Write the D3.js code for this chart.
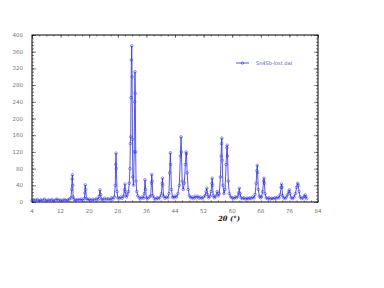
<!DOCTYPE html>
<html>
<head>
<meta charset="utf-8">
<script src="https://cdn.jsdelivr.net/npm/d3@7"></script>
<style>
  body { margin: 0; background: #fff; }
  svg { display: block; }
  .tick-label { font-family: "DejaVu Sans", sans-serif; font-size: 5.5px; fill: #777; }
</style>
</head>
<body>
<div id="main"></div>
<script>
// diffraction scan: [2theta, counts]
var pattern = [
  [4.0,3],[4.5,5],[5.0,4],[5.5,6],[6.0,3],[6.5,5],[7.0,4],[7.5,7],[8.0,3],[8.5,5],
  [9.0,4],[9.5,6],[10.0,3],[10.5,5],[11.0,7],[11.5,4],[12.0,5],[12.5,3],[13.0,6],[13.5,4],
  [14.0,5],[14.5,7],[14.9,10],[15.1,30],[15.2,55],[15.3,65],[15.4,40],[15.5,12],[15.8,6],[16.2,4],
  [16.7,6],[17.2,5],[17.7,7],[18.2,4],[18.6,8],[18.8,22],[18.9,41],[19.0,30],[19.2,9],[19.6,5],
  [20.0,7],[20.5,4],[21.0,6],[21.5,5],[22.0,8],[22.5,6],[22.8,14],[23.0,29],[23.2,18],[23.4,7],
  [23.8,5],[24.3,9],[24.8,6],[25.3,8],[25.8,5],[26.2,10],[26.6,7],[27.0,12],[27.3,40],[27.4,90],
  [27.5,117],[27.6,80],[27.8,25],[28.0,10],[28.4,8],[28.8,12],[29.2,9],[29.6,14],[29.9,30],[30.0,43],
  [30.1,25],[30.4,12],[30.7,18],[31.0,25],[31.2,45],[31.4,80],[31.5,140],[31.6,156],[31.7,250],[31.8,340],
  [31.9,374],[32.0,300],[32.1,150],[32.2,60],[32.4,40],[32.6,120],[32.7,240],[32.8,312],[32.9,260],[33.0,120],
  [33.1,50],[33.3,25],[33.6,15],[34.0,10],[34.4,8],[34.8,12],[35.2,9],[35.4,20],[35.6,53],[35.8,30],
  [36.0,10],[36.4,8],[36.8,12],[37.2,15],[37.4,45],[37.5,66],[37.6,50],[37.8,15],[38.2,9],[38.6,7],
  [39.0,10],[39.4,8],[39.8,12],[40.2,20],[40.4,45],[40.5,57],[40.6,40],[40.8,14],[41.2,9],[41.6,12],
  [42.0,10],[42.3,20],[42.5,70],[42.7,118],[42.8,90],[43.0,30],[43.3,12],[43.7,10],[44.0,14],[44.4,12],
  [44.8,20],[45.2,40],[45.5,110],[45.7,156],[45.8,120],[46.0,50],[46.3,30],[46.6,45],[46.9,90],[47.1,120],
  [47.2,115],[47.4,70],[47.7,30],[48.0,15],[48.4,10],[48.8,12],[49.2,8],[49.6,14],[50.0,10],[50.4,14],
  [50.8,9],[51.2,12],[51.6,8],[52.0,12],[52.4,15],[52.7,25],[52.9,33],[53.1,18],[53.4,10],[53.8,14],
  [54.1,25],[54.3,45],[54.4,57],[54.5,40],[54.7,15],[55.0,10],[55.4,14],[55.8,25],[56.1,15],[56.4,20],
  [56.7,60],[56.9,110],[57.0,140],[57.1,153],[57.2,100],[57.4,40],[57.7,20],[58.0,30],[58.3,90],[58.5,130],
  [58.6,136],[58.7,110],[58.9,50],[59.2,20],[59.6,12],[60.0,10],[60.4,8],[60.8,12],[61.2,10],[61.6,14],
  [61.8,22],[62.0,33],[62.2,20],[62.5,10],[62.9,8],[63.3,10],[63.7,7],[64.1,9],[64.5,8],[64.9,10],
  [65.3,8],[65.7,12],[66.1,10],[66.4,18],[66.7,45],[66.9,75],[67.0,88],[67.1,70],[67.3,30],[67.6,14],
  [67.9,10],[68.2,12],[68.5,25],[68.8,50],[68.9,57],[69.0,45],[69.2,20],[69.5,10],[69.9,8],[70.3,10],
  [70.7,7],[71.1,9],[71.5,8],[71.9,10],[72.3,8],[72.7,12],[73.1,10],[73.4,18],[73.7,35],[73.8,43],
  [73.9,35],[74.1,15],[74.4,10],[74.8,8],[75.2,12],[75.5,18],[75.8,25],[76.0,29],[76.2,20],[76.5,10],
  [76.9,8],[77.3,12],[77.7,20],[78.0,35],[78.3,45],[78.5,40],[78.7,25],[79.0,12],[79.4,8],[79.8,10],
  [80.2,14],[80.4,17],[80.6,12],[80.8,8]
];
var xTicks = [4, 12, 20, 28, 36, 44, 52, 60, 68, 76, 84];
var yTicks = [0, 40, 80, 120, 160, 200, 240, 280, 320, 360, 400];
var legendLabel = "Sn4Sb-lost.dat";
var xTitle = "2\u03b8 (\u00b0)";

var width = 384, height = 288;
var plotLeft = 32, plotRight = 318, plotTop = 35, plotBottom = 202;
var blue = "#2a2aff";

var svg = d3.select("#main").append("svg")
  .attr("width", width)
  .attr("height", height);

var x = d3.scaleLinear().domain([4, 84]).range([plotLeft, plotRight]);
var y = d3.scaleLinear().domain([0, 400]).range([plotBottom, plotTop]);

// minor ticks
var xMinor = d3.range(4, 84.01, 2);
var yMinor = d3.range(0, 400.01, 8);

var axes = svg.append("g");
// ticks point inward on all four sides
axes.append("g")
  .attr("transform", "translate(0," + plotBottom + ")")
  .call(d3.axisTop(x).tickValues(xMinor).tickSize(1.5).tickFormat(""));
axes.append("g")
  .attr("transform", "translate(0," + plotTop + ")")
  .call(d3.axisBottom(x).tickValues(xMinor).tickSize(1.5).tickFormat(""));
axes.append("g")
  .attr("transform", "translate(0," + plotTop + ")")
  .call(d3.axisBottom(x).tickValues(xTicks).tickSize(3).tickFormat(""));
axes.append("g")
  .attr("transform", "translate(" + plotLeft + ",0)")
  .call(d3.axisRight(y).tickValues(yMinor).tickSize(2).tickFormat(""));
axes.append("g")
  .attr("transform", "translate(" + plotLeft + ",0)")
  .call(d3.axisRight(y).tickValues(yTicks).tickSize(4).tickFormat(""));
axes.append("g")
  .attr("transform", "translate(" + plotRight + ",0)")
  .call(d3.axisLeft(y).tickValues(yMinor).tickSize(2).tickFormat(""));
axes.append("g")
  .attr("transform", "translate(" + plotRight + ",0)")
  .call(d3.axisLeft(y).tickValues(yTicks).tickSize(4).tickFormat(""));
axes.selectAll("path.domain").remove();
axes.selectAll(".tick line").attr("stroke", "#333").attr("stroke-width", 0.6);

// tick labels
svg.append("g").selectAll("text").data(xTicks).enter().append("text")
  .attr("class", "tick-label")
  .attr("x", function(d) { return x(d); })
  .attr("y", plotBottom + 11)
  .attr("text-anchor", "middle")
  .text(function(d) { return d; });
svg.append("g").selectAll("text").data(yTicks).enter().append("text")
  .attr("class", "tick-label")
  .attr("x", plotLeft - 9)
  .attr("y", function(d) { return y(d) + 2; })
  .attr("text-anchor", "end")
  .text(function(d) { return d; });

// frame
svg.append("rect")
  .attr("x", plotLeft).attr("y", plotTop)
  .attr("width", plotRight - plotLeft).attr("height", plotBottom - plotTop)
  .attr("fill", "none").attr("stroke", "#000").attr("stroke-width", 1);

// data
var line = d3.line()
  .x(function(d) { return x(d[0]); })
  .y(function(d) { return y(d[1]); });
svg.append("path")
  .datum(pattern)
  .attr("d", line)
  .attr("fill", "none")
  .attr("stroke", blue)
  .attr("stroke-width", 0.8);
svg.append("g").selectAll("circle").data(pattern).enter().append("circle")
  .attr("cx", function(d) { return x(d[0]); })
  .attr("cy", function(d) { return y(d[1]); })
  .attr("r", 1.3)
  .attr("fill", "none")
  .attr("stroke", blue)
  .attr("stroke-width", 0.5);

// legend
var legend = svg.append("g").attr("transform", "translate(236,63)");
legend.append("line")
  .attr("x1", 0).attr("x2", 13).attr("y1", 0).attr("y2", 0)
  .attr("stroke", blue).attr("stroke-width", 0.8);
legend.append("circle")
  .attr("cx", 6.5).attr("cy", 0).attr("r", 1.3)
  .attr("fill", "none").attr("stroke", blue).attr("stroke-width", 0.5);
legend.append("text")
  .attr("x", 20).attr("y", 2)
  .style("font-family", "DejaVu Sans, sans-serif")
  .style("font-size", "5px")
  .style("fill", "#5a64a8")
  .text(legendLabel);

// axis title
svg.append("text")
  .attr("x", 229).attr("y", 221)
  .attr("text-anchor", "middle")
  .style("font-family", "DejaVu Serif, serif")
  .style("font-weight", "bold")
  .style("font-style", "italic")
  .style("font-size", "7px")
  .style("fill", "#222")
  .text(xTitle);
</script>
</body>
</html>
